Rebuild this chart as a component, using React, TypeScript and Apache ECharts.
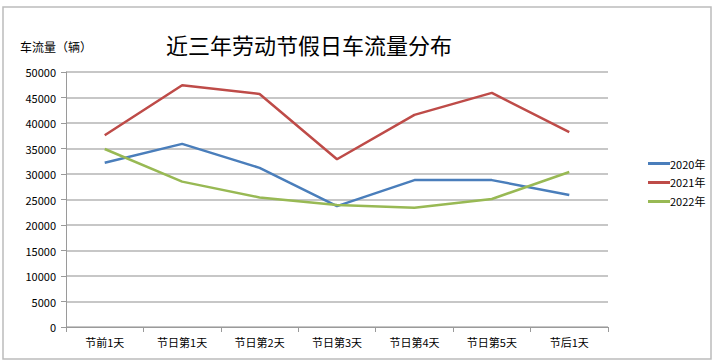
import React, { useEffect, useRef } from "react";
import * as echarts from "echarts";

const categories = ["节前1天", "节日第1天", "节日第2天", "节日第3天", "节日第4天", "节日第5天", "节后1天"];
const series2020 = [32200, 35900, 31200, 23700, 28800, 28800, 25900];
const series2021 = [37600, 47400, 45700, 32900, 41600, 45900, 38200];
const series2022 = [34900, 28500, 25400, 23900, 23400, 25100, 30400];
const seriesNames = ["2020年", "2021年", "2022年"];
const colors = ["#4a7ebb", "#be4b48", "#98b954"];

export default function App() {
  const ref = useRef<HTMLDivElement>(null);
  useEffect(() => {
    document.body.style.margin = "0";
    const chart = echarts.init(ref.current!, null, { renderer: "svg" });
    const font = "'Noto Sans CJK SC', sans-serif";
    const data = [series2020, series2021, series2022];
    chart.setOption({
      animation: false,
      textStyle: { fontFamily: font },
      title: {
        text: "近三年劳动节假日车流量分布",
        left: 304,
        textAlign: "center",
        top: 28,
        textStyle: { fontSize: 22, fontWeight: "normal", color: "#000", fontFamily: font },
      },
      graphic: [
        {
          type: "rect",
          shape: { x: 3, y: 7, width: 708, height: 352 },
          style: { fill: "none", stroke: "#bcbcbc", lineWidth: 1.5 },
          silent: true,
        },
        {
          type: "text",
          x: 20,
          y: 40,
          style: { text: "车流量（辆）", fontSize: 12, fill: "#000", fontFamily: font },
        },
      ],
      legend: {
        orient: "vertical",
        left: 643,
        top: 153,
        itemWidth: 22,
        itemHeight: 3,
        itemGap: 8,
        icon: "rect",
        textStyle: { fontSize: 11, color: "#000", padding: [0, 0, 0, -5] },
        data: seriesNames,
      },
      grid: { left: 66, right: 105, top: 72, bottom: 37, containLabel: false },
      xAxis: {
        type: "category",
        data: categories,
        boundaryGap: true,
        axisLine: { lineStyle: { color: "#9a9a9a", width: 1 } },
        axisTick: { show: true, length: 5, lineStyle: { color: "#9a9a9a" } },
        axisLabel: { fontSize: 11, color: "#000", margin: 9 },
      },
      yAxis: {
        type: "value",
        min: 0,
        max: 50000,
        interval: 5000,
        axisLine: { show: true, lineStyle: { color: "#9a9a9a", width: 1 } },
        axisTick: { show: true, length: 5, lineStyle: { color: "#9a9a9a" } },
        axisLabel: { fontSize: 11, color: "#000", margin: 10, formatter: (v: number) => String(v) },
        splitLine: { lineStyle: { color: "#b5b5b5", width: 1.5 } },
      },
      series: data.map((d, i) => ({
        name: seriesNames[i],
        type: "line",
        data: d,
        symbol: "none",
        lineStyle: { color: colors[i], width: 2.5 },
        itemStyle: { color: colors[i] },
      })),
    });
    return () => chart.dispose();
  }, []);
  return <div ref={ref} style={{ width: 713, height: 364 }} />;
}
